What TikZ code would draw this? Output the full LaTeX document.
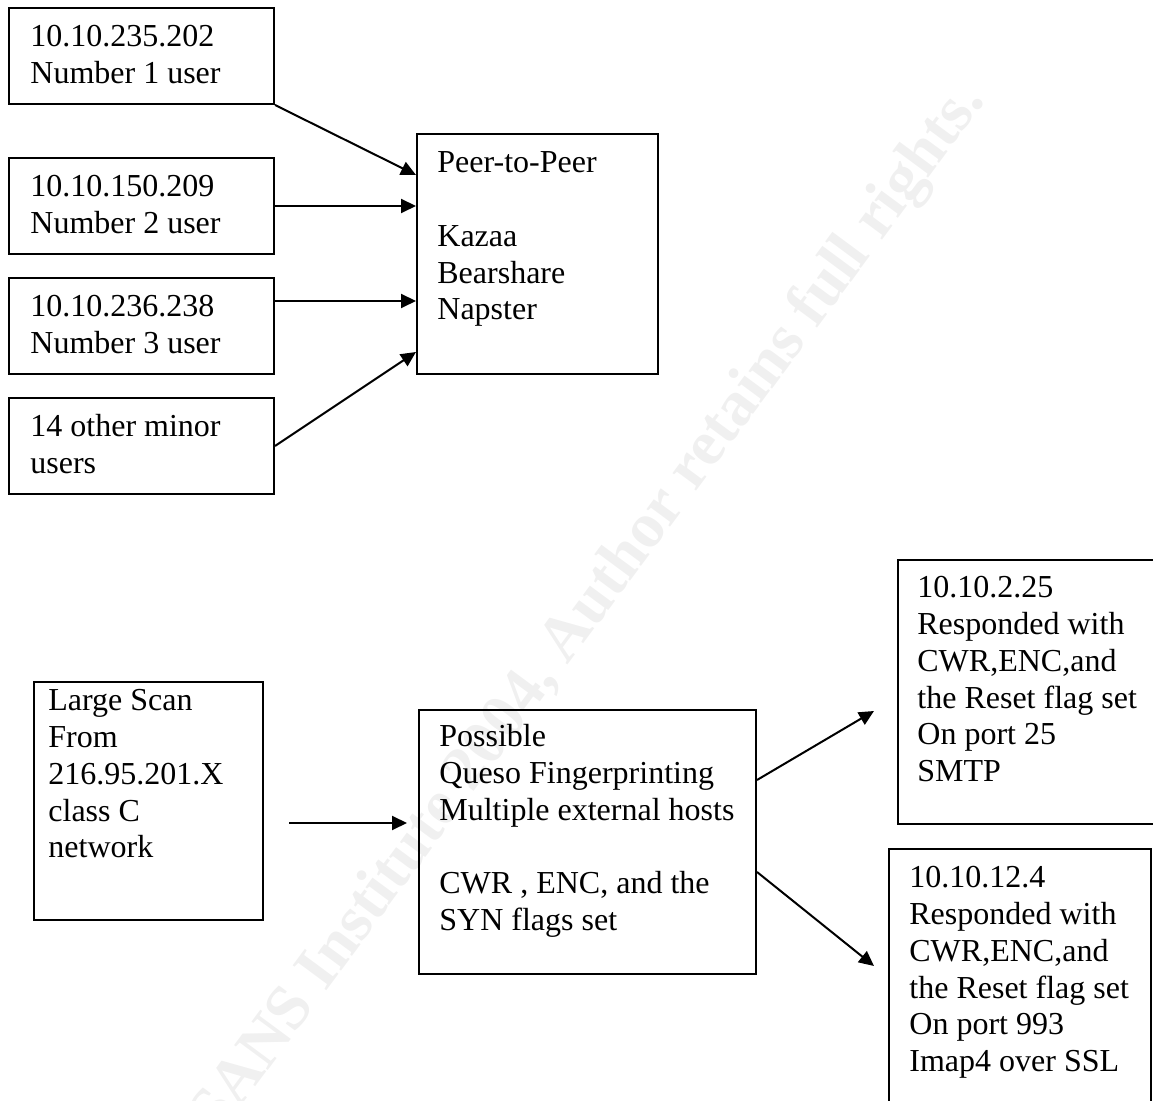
\documentclass[tikz,border=0pt]{standalone}
\usepackage{fontspec}
\setmainfont{Liberation Serif}
\usetikzlibrary{arrows.meta,calc}
\newcommand{\mylines}[1]{\begin{tabular}[t]{@{}l@{}}#1\end{tabular}}
\begin{document}
\begin{tikzpicture}[x=0.5pt,y=-0.5pt,
  boxst/.style={draw,line width=1pt,inner sep=0pt,anchor=north west},
  txt/.style={anchor=base west,inner sep=0pt,font=\fontsize{16}{18.35}\selectfont},
  arr/.style={line width=1pt,-{Triangle[length=7.5pt,width=7pt]}},
  wmark/.style={rotate=53.5,anchor=base east,inner sep=0pt,text=black!6,font=\fontsize{32}{33}\selectfont\bfseries}
]
\useasboundingbox (0,0) rectangle (1153,1101);
% watermark
\node[wmark] (wm) at (986,100) {© SANS Institute 2004, Author retains full rights.};
% users
\node[boxst,minimum width=132.5pt,minimum height=48pt] (u1) at (8,7) {};
\node[boxst,minimum width=132.5pt,minimum height=48pt] (u2) at (8,157) {};
\node[boxst,minimum width=132.5pt,minimum height=48pt] (u3) at (8,277) {};
\node[boxst,minimum width=132.5pt,minimum height=48pt] (u4) at (8,397) {};
\node[txt] (t1) at (30,47) {\mylines{10.10.235.202\\Number 1 user}};
\node[txt] (t2) at (30,197) {\mylines{10.10.150.209\\Number 2 user}};
\node[txt] (t3) at (30,317) {\mylines{10.10.236.238\\Number 3 user}};
\node[txt] (t4) at (30,437) {\mylines{14 other minor\\users}};
% peer to peer
\node[boxst,minimum width=120.5pt,minimum height=120pt] (p2p) at (416,133) {};
\node[txt] (tp) at (437,173) {\mylines{Peer-to-Peer\\ \\Kazaa\\Bearshare\\Napster}};
% scan
\node[boxst,minimum width=114.5pt,minimum height=119pt] (scan) at (33,681) {};
\node[txt] (ts) at (48,711) {\mylines{Large Scan\\From\\216.95.201.X\\class C\\network}};
% queso
\node[boxst,minimum width=168.5pt,minimum height=132pt] (queso) at (418,709) {};
\node[txt] (tq) at (439,747) {\mylines{Possible\\Queso Fingerprinting\\Multiple external hosts\\ \\CWR , ENC, and the\\SYN flags set}};
% responders
\node[boxst,minimum width=131.5pt,minimum height=132pt] (r1) at (897,559) {};
\node[txt] (tr1) at (917,598) {\mylines{10.10.2.25\\Responded with\\CWR,ENC,and\\the Reset flag set\\On port 25\\SMTP}};
\node[boxst,minimum width=131pt,minimum height=150pt] (r2) at (888,848) {};
\node[txt] (tr2) at (909,888) {\mylines{10.10.12.4\\Responded with\\CWR,ENC,and\\the Reset flag set\\On port 993\\Imap4 over SSL}};
% connectors
\coordinate (p1) at ($(p2p.north west)+(0,42)$);
\coordinate (q3) at ($(u3.north east)+(0,24)$);
\coordinate (p4) at ($(p2p.south west)+(0,-23)$);
\draw[arr] (u1.south east) -- (p1);
\draw[arr] (u2.east) -- (p2p.west |- u2.east);
\draw[arr] (q3) -- (p2p.west |- q3);
\draw[arr] (u4.east) -- (p4);
\coordinate (s1) at (289,823);
\coordinate (s2) at (407,823);
\draw[arr] (s1) -- (s2);
\coordinate (e1) at (874,711);
\coordinate (e2) at (874,966);
\draw[arr] ($(queso.north east)+(0,71)$) -- (e1);
\draw[arr] ($(queso.north east)+(0,163)$) -- (e2);
\end{tikzpicture}
\end{document}
